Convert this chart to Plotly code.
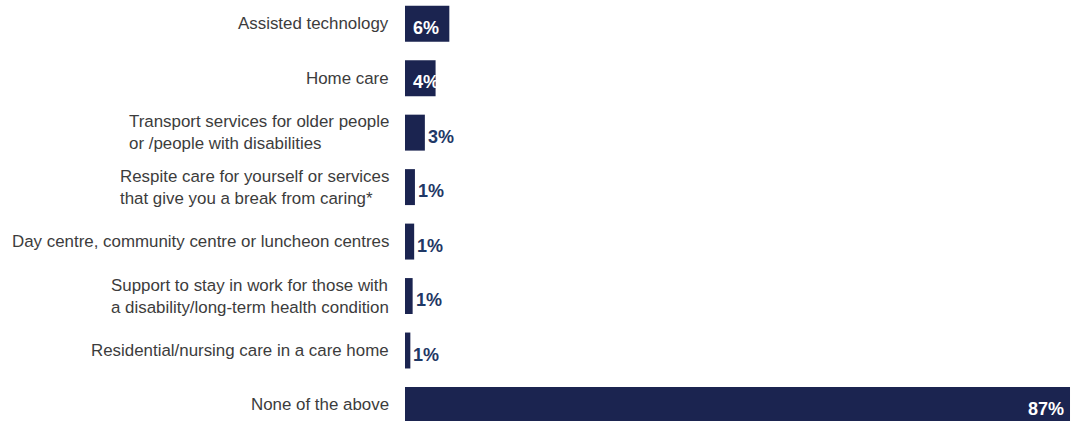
import plotly.graph_objects as go

# Share of respondents using each service (%)
categories = [
    "Assisted technology",
    "Home care",
    "Transport services for older people<br>or /people with disabilities",
    "Respite care for yourself or services<br>that give you a break from caring*",
    "Day centre, community centre or luncheon centres",
    "Support to stay in work for those with<br>a disability/long-term health condition",
    "Residential/nursing care in a care home",
    "None of the above",
]
values = [5.8, 4.0, 2.6, 1.3, 1.2, 1.0, 0.7, 87.0]

BAR = "#1b2450"
LABEL_OUT = "#1f3866"
CAT_TEXT = "#3c3c3c"
FONT = "Liberation Sans, Arial, sans-serif"

W, H = 1072, 421
LEFT = 405

fig = go.Figure(
    go.Bar(
        x=values,
        y=categories,
        orientation="h",
        marker=dict(color=BAR, line=dict(width=0)),
        hoverinfo="skip",
    )
)

annotations = []
for cat, v in zip(categories, values):
    # category label, right-aligned block with left-aligned lines
    annotations.append(dict(
        x=0, xref="paper", y=cat, yref="y",
        text=cat, showarrow=False,
        xanchor="right", yanchor="middle", align="left",
        xshift=-14,
        font=dict(family=FONT, size=16.9, color=CAT_TEXT),
    ))
    # value label
    txt = f"<b>{round(v)}%</b>"
    if v >= 4:
        if v < 50:
            ann = dict(x=0, xanchor="left", xshift=6,
                       font=dict(family=FONT, size=18, color="white"))
        else:
            ann = dict(x=v, xanchor="right", xshift=-4,
                       font=dict(family=FONT, size=18, color="white"))
    else:
        ann = dict(x=v, xanchor="left", xshift=1,
                   font=dict(family=FONT, size=18, color=LABEL_OUT))
    ann.update(y=cat, yref="y", xref="x", text=txt, showarrow=False,
               yanchor="middle", yshift=-4)
    annotations.append(ann)

fig.update_layout(
    width=W, height=H,
    margin=dict(l=LEFT, r=0, t=0, b=0),
    paper_bgcolor="white", plot_bgcolor="white",
    bargap=0.34,
    showlegend=False,
    annotations=annotations,
    xaxis=dict(range=[0, 87.26], visible=False, fixedrange=True),
    yaxis=dict(
        categoryorder="array", categoryarray=categories,
        range=[7.294, -0.435],
        showticklabels=False, showgrid=False, zeroline=False,
        fixedrange=True,
    ),
)

fig.write_html("out.html", config={"displayModeBar": False})
